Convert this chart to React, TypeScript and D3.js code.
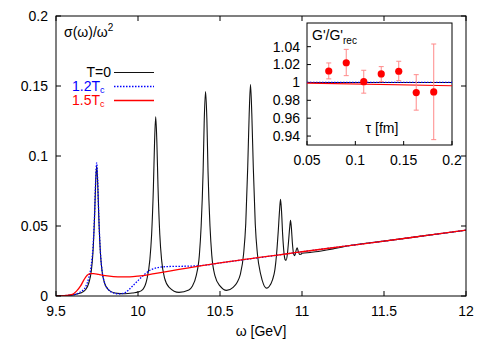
import React from "react";
import * as d3 from "d3";

// omega grid [GeV] and sigma/omega^2, T=0 (black)
const omegaT0 = [
  9.5, 9.55, 9.6, 9.65, 9.68, 9.7, 9.715, 9.725, 9.735, 9.742, 9.748, 9.754, 9.761, 9.771, 9.781, 9.796,
  9.82, 9.86, 9.92, 9.97, 10.0, 10.03, 10.054, 10.072, 10.083, 10.094, 10.101, 10.108, 10.115, 10.122,
  10.133, 10.144, 10.162, 10.19, 10.25, 10.31, 10.33, 10.355, 10.374, 10.385, 10.397, 10.404, 10.412,
  10.42, 10.427, 10.439, 10.45, 10.469, 10.5, 10.54, 10.58, 10.605, 10.623, 10.644, 10.657, 10.669,
  10.678, 10.686, 10.694, 10.703, 10.715, 10.728, 10.749, 10.765, 10.785, 10.8, 10.82, 10.835, 10.845,
  10.855, 10.863, 10.869, 10.875, 10.882, 10.89, 10.897, 10.903, 10.911, 10.918, 10.925, 10.93, 10.935,
  10.942, 10.949, 10.956, 10.963, 10.97, 10.977, 10.985, 10.993, 11.0, 11.05, 11.1, 11.15, 11.2, 11.3,
  11.5, 11.75, 12.0,
];
const sigmaT0 = [
  0, 0.0001, 0.0008, 0.0021, 0.0045, 0.0093, 0.0177, 0.0303, 0.056, 0.0815, 0.093, 0.0815, 0.056, 0.0303,
  0.0177, 0.0093, 0.0044, 0.0022, 0.0016, 0.0022, 0.0028, 0.0048, 0.0118, 0.0256, 0.0437, 0.078, 0.11,
  0.128, 0.11, 0.078, 0.0437, 0.0256, 0.0128, 0.0062, 0.0026, 0.0042, 0.0068, 0.0146, 0.029, 0.0498,
  0.089, 0.126, 0.146, 0.126, 0.089, 0.0498, 0.029, 0.0146, 0.0072, 0.004, 0.0062, 0.0098, 0.0151,
  0.0302, 0.0515, 0.092, 0.13, 0.151, 0.13, 0.092, 0.0515, 0.0302, 0.0151, 0.0085, 0.0056, 0.0068,
  0.0115, 0.019, 0.03, 0.046, 0.061, 0.069, 0.061, 0.044, 0.031, 0.026, 0.0255, 0.03, 0.039, 0.049,
  0.054, 0.049, 0.037, 0.03, 0.0288, 0.032, 0.0345, 0.032, 0.0297, 0.0298, 0.0305, 0.0311, 0.0318,
  0.0328, 0.0339, 0.0362, 0.0392, 0.0431, 0.047,
];

// 1.2 Tc (blue dotted)
const omega12 = [
  9.5, 9.6, 9.65, 9.68, 9.7, 9.715, 9.725, 9.735, 9.742, 9.748, 9.754, 9.761, 9.771, 9.781, 9.796, 9.82,
  9.85, 9.88, 9.91, 9.94, 9.97, 10.0, 10.04, 10.08, 10.12, 10.16, 10.2, 10.25, 10.3, 10.35, 10.4, 10.5,
  10.6, 10.7, 10.8, 10.9, 11.0, 11.5, 12.0,
];
const sigma12 = [
  0, 0.0008, 0.003, 0.0065, 0.013, 0.022, 0.034, 0.058, 0.083, 0.095, 0.083, 0.057, 0.031, 0.018, 0.0095,
  0.0045, 0.0022, 0.0015, 0.0018, 0.004, 0.0075, 0.011, 0.0155, 0.0188, 0.0203, 0.0209, 0.0211, 0.0212,
  0.0213, 0.0215, 0.0219, 0.0236, 0.0252, 0.0268, 0.0284, 0.03, 0.0316, 0.0392, 0.047,
];

// 1.5 Tc (red)
const omega15 = [
  9.5, 9.55, 9.6, 9.625, 9.65, 9.67, 9.69, 9.71, 9.73, 9.76, 9.8, 9.85, 9.9, 9.95, 10.0, 10.1, 10.2, 10.3,
  10.4, 10.5, 10.6, 10.7, 10.8, 10.9, 11.0, 11.25, 11.5, 11.75, 12.0,
];
const sigma15 = [
  0, 0.0002, 0.0012, 0.0035, 0.0072, 0.0115, 0.0148, 0.016, 0.016, 0.0154, 0.0146, 0.0139, 0.0136,
  0.0137, 0.0142, 0.016, 0.018, 0.0199, 0.0219, 0.0237, 0.0253, 0.0269, 0.0285, 0.03, 0.0316, 0.0354,
  0.0392, 0.0431, 0.047,
];

// inset: G'/G'rec vs tau [fm]
const tau = [0.0725, 0.0906, 0.1087, 0.1268, 0.1449, 0.163, 0.1811];
const ratio = [1.0128, 1.022, 1.0009, 1.0095, 1.0125, 0.9886, 0.9894];
const ratioLo = [1.004, 1.0076, 0.988, 1.0009, 1.002, 0.969, 0.936];
const ratioHi = [1.0218, 1.037, 1.0136, 1.0177, 1.0237, 1.0087, 1.043];
const tauLine = [0.05, 0.2];
const lineT0 = [1, 1];
const line12 = [1, 1];
const line15 = [0.9993, 0.9963];

const xTicks = [9.5, 10, 10.5, 11, 11.5, 12];
const yTicks = [0, 0.05, 0.1, 0.15, 0.2];
const insetXTicks = [0.05, 0.1, 0.15, 0.2];
const insetYTicks = [0.94, 0.96, 0.98, 1, 1.02, 1.04];

const font = "'Liberation Sans', Arial, Helvetica, sans-serif";

export default function App() {
  const x = d3.scaleLinear().domain([9.5, 12]).range([56, 466]);
  const y = d3.scaleLinear().domain([0, 0.2]).range([296, 16]);
  const ix = d3.scaleLinear().domain([0.05, 0.2]).range([307, 452]);
  const iy = d3.scaleLinear().domain([0.93, 1.0665]).range([145, 23]);

  const line = d3
    .line<number>()
    .x((d) => x(d))
    .curve(d3.curveMonotoneX);
  const path = (ws: number[], vs: number[]) =>
    line.y((_, i) => y(vs[i]))(ws) || "";

  const iline = (vs: number[]) =>
    d3
      .line<number>()
      .x((d) => ix(d))
      .y((_, i) => iy(vs[i]))(tauLine) || "";

  const [x0, x1] = x.range();
  const [y0, y1] = y.range();

  return (
    <svg
      width={491}
      height={343}
      style={{ position: "absolute", left: 0, top: 0, background: "#fff" }}
      fontFamily={font}
      fontSize={14}
    >
      <defs>
        <clipPath id="plot">
          <rect x={x0} y={y1} width={x1 - x0} height={y0 - y1} />
        </clipPath>
      </defs>

      {/* main curves */}
      <g clipPath="url(#plot)" fill="none">
        <path d={path(omegaT0, sigmaT0)} stroke="#111" strokeWidth={1.1} />
        <path d={path(omega12, sigma12)} stroke="#0000ff" strokeWidth={1.3} strokeDasharray="1.5 1.5" />
        <path d={path(omega15, sigma15)} stroke="#ff0000" strokeWidth={1.3} />
      </g>

      {/* main frame + ticks */}
      <rect x={x0} y={y1} width={x1 - x0} height={y0 - y1} fill="none" stroke="#000" strokeWidth={1} />
      {xTicks.map((t) => (
        <g key={"x" + t}>
          <line x1={x(t)} x2={x(t)} y1={y0} y2={y0 - 5} stroke="#000" />
          <line x1={x(t)} x2={x(t)} y1={y1} y2={y1 + 5} stroke="#000" />
          <text x={x(t)} y={316} textAnchor="middle">
            {t}
          </text>
        </g>
      ))}
      {yTicks.map((t) => (
        <g key={"y" + t}>
          <line x1={x0} x2={x0 + 5} y1={y(t)} y2={y(t)} stroke="#000" />
          <line x1={x1} x2={x1 - 5} y1={y(t)} y2={y(t)} stroke="#000" />
          <text x={48} y={y(t)} dy="0.35em" textAnchor="end">
            {t}
          </text>
        </g>
      ))}
      <text x={261} y={336} textAnchor="middle">
        ω [GeV]
      </text>
      <text x={64} y={37}>
        σ(ω)/ω<tspan dy={-6} fontSize={10}>2</tspan>
      </text>

      {/* legend */}
      <text x={111} y={72.5} dy="0.35em" textAnchor="end">
        T=0
      </text>
      <line x1={114} x2={154} y1={72.5} y2={72.5} stroke="#111" strokeWidth={1.1} />
      <text x={72} y={86.5} dy="0.35em" fill="#0000ff">
        1.2T<tspan dy={2} fontSize={9}>c</tspan>
      </text>
      <line x1={114} x2={154} y1={86.5} y2={86.5} stroke="#0000ff" strokeWidth={1.3} strokeDasharray="1.5 1.5" />
      <text x={72} y={100.5} dy="0.35em" fill="#ff0000">
        1.5T<tspan dy={2} fontSize={9}>c</tspan>
      </text>
      <line x1={114} x2={154} y1={100.5} y2={100.5} stroke="#ff0000" strokeWidth={1.3} />

      {/* inset */}
      <rect x={307} y={23} width={145} height={122} fill="#fff" stroke="#000" strokeWidth={1} />
      {insetXTicks.map((t) => (
        <g key={"ix" + t}>
          <line x1={ix(t)} x2={ix(t)} y1={145} y2={141} stroke="#000" />
          <text x={ix(t)} y={165} textAnchor="middle">
            {t}
          </text>
        </g>
      ))}
      {insetYTicks.map((t) => (
        <g key={"iy" + t}>
          <line x1={307} x2={311} y1={iy(t)} y2={iy(t)} stroke="#000" />
          <text x={300} y={iy(t)} dy="0.35em" textAnchor="end">
            {t}
          </text>
        </g>
      ))}
      <g fill="none">
        <path d={iline(lineT0)} stroke="#111" strokeWidth={1.1} />
        <path d={iline(line12)} stroke="#0000ff" strokeWidth={1.2} strokeDasharray="1.5 1.5" />
        <path d={iline(line15)} stroke="#ff0000" strokeWidth={1.2} />
      </g>
      {tau.map((t, i) => (
        <g key={"e" + i} stroke="#ff8a8a" strokeWidth={1}>
          <line x1={ix(t)} x2={ix(t)} y1={iy(ratioLo[i])} y2={iy(ratioHi[i])} />
          <line x1={ix(t) - 2.5} x2={ix(t) + 2.5} y1={iy(ratioLo[i])} y2={iy(ratioLo[i])} />
          <line x1={ix(t) - 2.5} x2={ix(t) + 2.5} y1={iy(ratioHi[i])} y2={iy(ratioHi[i])} />
        </g>
      ))}
      {tau.map((t, i) => (
        <circle key={"p" + i} cx={ix(t)} cy={iy(ratio[i])} r={3.6} fill="#ff0000" />
      ))}
      <text x={312} y={40}>
        G'/G'<tspan dy={4} fontSize={10}>rec</tspan>
      </text>
      <text x={382} y={133} textAnchor="middle">
        τ [fm]
      </text>
    </svg>
  );
}
